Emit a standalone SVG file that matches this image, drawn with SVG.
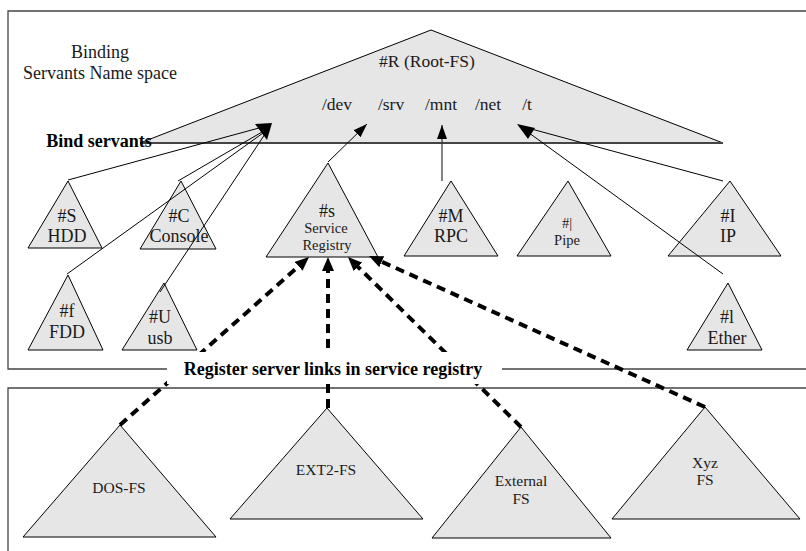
<svg xmlns="http://www.w3.org/2000/svg" width="806" height="551" viewBox="0 0 806 551">
<style>
  .tri { fill: #e6e6e6; stroke: #000; stroke-width: 1; stroke-linejoin: miter; }
  .box { fill: none; stroke: #444; stroke-width: 1.3; }
  .t { font-family: "Liberation Serif", "DejaVu Serif", "Times New Roman", serif; fill: #1a1a1a; text-anchor: middle; }
  .big { font-size: 18px; }
  .mid { font-size: 17.5px; }
  .sm { font-size: 14.5px; }
  .fs { font-size: 15.5px; }
  .b { font-weight: bold; fill: #000; }
  .ln { stroke: #000; stroke-width: 1; fill: none; }
  .dash { stroke: #000; stroke-width: 4; stroke-dasharray: 9 6; fill: none; }
</style>
<defs>
  <marker id="ah" viewBox="0 0 14 10" refX="14" refY="5" markerWidth="14" markerHeight="10" markerUnits="userSpaceOnUse" orient="auto">
    <path d="M0,0 L14,5 L0,10 z" fill="#000"/>
  </marker>
  <marker id="dh" viewBox="0 0 14 12" refX="3" refY="6" markerWidth="14" markerHeight="12" markerUnits="userSpaceOnUse" orient="auto">
    <path d="M0,0 L14,6 L0,12 z" fill="#000"/>
  </marker>
</defs>

<rect x="0" y="0" width="806" height="551" fill="#fff"/>

<!-- frames -->
<g id="frames">
  <polyline class="box" points="806,11 8,11 8,369 806,369"/>
  <polyline class="box" points="8,551 8,388 806,388"/>
</g>

<text class="t big" x="100" y="58">Binding</text>
<text class="t big" x="100" y="79">Servants Name space</text>

<!-- root node -->
<g id="root">
  <polygon class="tri" points="431,30 723,143 140,143"/>
  <line x1="140" y1="143" x2="723" y2="143" stroke="#444" stroke-width="1.8"/>
  <text class="t mid" x="427" y="67">#R (Root-FS)</text>
  <text class="t mid" x="337" y="110">/dev</text>
  <text class="t mid" x="391" y="110">/srv</text>
  <text class="t mid" x="441" y="110">/mnt</text>
  <text class="t mid" x="488" y="110">/net</text>
  <text class="t mid" x="527" y="110">/t</text>
</g>

<text class="t big b" x="99" y="147">Bind servants</text>

<!-- device nodes -->
<g id="hdd">
  <polygon class="tri" points="68,181 102,248 28,248"/>
  <text class="t big" x="67" y="222">#S</text>
  <text class="t big" x="67" y="242">HDD</text>
</g>
<g id="console">
  <polygon class="tri" points="181,181 216,249 140,249"/>
  <text class="t big" x="179" y="222">#C</text>
  <text class="t big" x="179" y="242">Console</text>
</g>
<g id="fdd">
  <polygon class="tri" points="68,275 103,350 28,350"/>
  <text class="t big" x="67" y="317">#f</text>
  <text class="t big" x="67" y="338">FDD</text>
</g>
<g id="usb">
  <polygon class="tri" points="164,283 197,350 122,350"/>
  <text class="t big" x="160" y="323">#U</text>
  <text class="t big" x="160" y="344">usb</text>
</g>
<g id="registry">
  <polygon class="tri" points="328,163 378,257 266,257"/>
  <text class="t big" x="327" y="217">#s</text>
  <text class="t sm" x="326" y="233">Service</text>
  <text class="t sm" x="327" y="250">Registry</text>
</g>
<g id="rpc">
  <polygon class="tri" points="451,181 498,256 404,256"/>
  <text class="t big" x="451" y="222">#M</text>
  <text class="t big" x="451" y="242">RPC</text>
</g>
<g id="pipe">
  <polygon class="tri" points="568,181 611,256 517,256"/>
  <text class="t sm" x="567" y="228">#|</text>
  <text class="t sm" x="567" y="245">Pipe</text>
</g>
<g id="ip">
  <polygon class="tri" points="730,181 781,256 668,256"/>
  <text class="t big" x="728" y="222">#I</text>
  <text class="t big" x="728" y="242">IP</text>
</g>
<g id="ether">
  <polygon class="tri" points="728,283 762,350 687,350"/>
  <text class="t big" x="727" y="323">#l</text>
  <text class="t big" x="727" y="344">Ether</text>
</g>

<!-- file servers -->
<g id="dosfs">
  <polygon class="tri" points="120,425 216,537 23,537"/>
  <text class="t fs" x="119" y="493">DOS-FS</text>
</g>
<g id="ext2fs">
  <polygon class="tri" points="327,408 423,519 230,519"/>
  <text class="t fs" x="326" y="475">EXT2-FS</text>
</g>
<g id="externalfs">
  <polygon class="tri" points="521,427 611,538 432,538"/>
  <text class="t fs" x="521" y="486">External</text>
  <text class="t fs" x="521" y="504">FS</text>
</g>
<g id="xyzfs">
  <polygon class="tri" points="705,407 800,519 612,519"/>
  <text class="t fs" x="705" y="468">Xyz</text>
  <text class="t fs" x="705" y="485">FS</text>
</g>

<!-- connectors -->
<g id="connectors">
  <line class="ln" x1="68" y1="180" x2="259" y2="128"/>
  <line class="ln" x1="178" y1="181" x2="262" y2="132"/>
  <line class="ln" x1="67" y1="274" x2="263" y2="133"/>
  <line class="ln" x1="160" y1="292" x2="265" y2="134"/>
  <polygon points="255,124 272,123 267,140" fill="#000"/>
  <line class="ln" x1="328" y1="162" x2="367" y2="124" marker-end="url(#ah)"/>
  <line x1="442" y1="181" x2="442" y2="125" stroke="#333" stroke-width="1.2" marker-end="url(#ah)"/>
  <line class="ln" x1="723" y1="181" x2="524" y2="127"/>
  <line class="ln" x1="723" y1="274" x2="525" y2="130"/>
  <polygon points="517,124 535,128 528,139" fill="#000"/>

  <line class="dash" x1="120" y1="425" x2="300.8" y2="264.3" marker-end="url(#dh)"/>
  <line class="dash" x1="328" y1="408" x2="328" y2="268" marker-end="url(#dh)"/>
  <line class="dash" x1="521" y1="427" x2="355.8" y2="264.7" marker-end="url(#dh)"/>
  <line class="dash" x1="705" y1="407" x2="379" y2="260.5" marker-end="url(#dh)"/>
</g>

<!-- label over links -->
<g id="register-label">
  <rect x="167" y="352" width="335" height="32" fill="#fff"/>
  <text class="t big b" x="333" y="375">Register server links in service registry</text>
</g>
</svg>
